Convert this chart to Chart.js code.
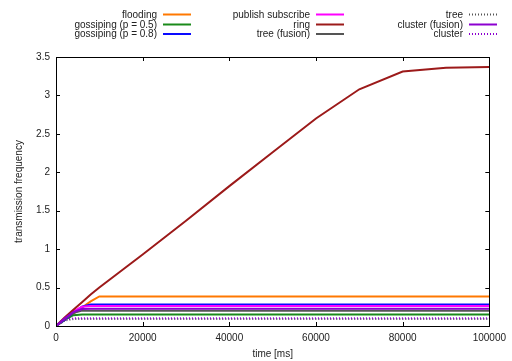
<!DOCTYPE html>
<html>
<head>
<meta charset="utf-8">
<script src="https://cdn.jsdelivr.net/npm/chart.js@4.4.1/dist/chart.umd.min.js"></script>
<style>
    html, body { margin: 0; padding: 0; background: #fff; }
    #wrap { width: 512px; height: 361px; }
</style>
</head>
<body>
<div id="wrap"><canvas id="freqChart" width="512" height="361"></canvas></div>
<script>
// time axis samples (ms)
const time = [0, 2000, 4000, 6000, 8000, 10000, 20000, 30000, 40000, 50000, 60000, 70000, 80000, 90000, 100000];

// series values
const flooding      = [0, 0.08, 0.16, 0.24, 0.32, 0.385, 0.385, 0.385, 0.385, 0.385, 0.385, 0.385, 0.385, 0.385, 0.385];
const gossip05      = [0, 0.08, 0.14, 0.15, 0.15, 0.15, 0.15, 0.15, 0.15, 0.15, 0.15, 0.15, 0.15, 0.15, 0.15];
const gossip08      = [0, 0.08, 0.17, 0.25, 0.28, 0.28, 0.28, 0.28, 0.28, 0.28, 0.28, 0.28, 0.28, 0.28, 0.28];
const pubsub        = [0, 0.1, 0.19, 0.25, 0.26, 0.26, 0.26, 0.26, 0.26, 0.26, 0.26, 0.26, 0.26, 0.26, 0.26];
const ring          = [0, 0.11, 0.21, 0.31, 0.41, 0.5, 0.93, 1.37, 1.82, 2.26, 2.7, 3.08, 3.31, 3.36, 3.37];
const treeFusion    = [0, 0.09, 0.17, 0.2, 0.2, 0.2, 0.2, 0.2, 0.2, 0.2, 0.2, 0.2, 0.2, 0.2, 0.2];
const tree          = [0, 0.07, 0.09, 0.09, 0.09, 0.09, 0.09, 0.09, 0.09, 0.09, 0.09, 0.09, 0.09, 0.09, 0.09];
const clusterFusion = [0, 0.1, 0.18, 0.22, 0.225, 0.225, 0.225, 0.225, 0.225, 0.225, 0.225, 0.225, 0.225, 0.225, 0.225];
const cluster       = [0, 0.08, 0.1, 0.1, 0.1, 0.1, 0.1, 0.1, 0.1, 0.1, 0.1, 0.1, 0.1, 0.1, 0.1];

const seriesNames = ['flooding', 'gossiping (p = 0.5)', 'gossiping (p = 0.8)', 'publish subscribe', 'ring',
                     'tree (fusion)', 'tree', 'cluster (fusion)', 'cluster'];
const seriesValues = [flooding, gossip05, gossip08, pubsub, ring, treeFusion, tree, clusterFusion, cluster];
const seriesColors = ['#ff7800', '#1a8a1a', '#0a0aff', '#ff00ff', '#9c1a1a', '#555555', '#555555', '#8c00d0', '#8c00d0'];
const seriesDashed = [false, false, false, false, false, false, true, false, true];

const xTicks = [0, 20000, 40000, 60000, 80000, 100000];
const yTicks = [0, 0.5, 1, 1.5, 2, 2.5, 3, 3.5];

const FONT = 'Liberation Sans, Arial, sans-serif';

// gnuplot style legend: 3 columns, text right aligned, sample line to the right
const legendPlugin = {
    id: 'gnuLegend',
    afterDraw(chart) {
        const ctx = chart.ctx;
        const colRight = [157, 310, 463];
        const rowY = [14.5, 24.5, 34];
        ctx.save();
        ctx.font = '10px ' + FONT;
        ctx.textAlign = 'right';
        ctx.textBaseline = 'middle';
        chart.data.datasets.forEach((ds, i) => {
            const col = Math.floor(i / 3);
            const row = i % 3;
            const x = colRight[col];
            const y = rowY[row];
            ctx.fillStyle = '#222';
            ctx.fillText(ds.label, x, y + 0.5);
            ctx.beginPath();
            ctx.strokeStyle = ds.borderColor;
            ctx.lineWidth = 2;
            ctx.setLineDash(ds.borderDash || []);
            ctx.moveTo(x + 6, y);
            ctx.lineTo(x + 34, y);
            ctx.stroke();
        });
        ctx.restore();
    }
};

// frame with inward, mirrored ticks
const framePlugin = {
    id: 'gnuFrame',
    afterDatasetsDraw(chart) {
        const ctx = chart.ctx;
        const a = chart.chartArea;
        const xs = chart.scales.x;
        const ys = chart.scales.y;
        const tl = 4;
        ctx.save();
        ctx.strokeStyle = '#000';
        ctx.lineWidth = 1;
        ctx.setLineDash([]);
        ctx.beginPath();
        xTicks.forEach(v => {
            const px = Math.round(xs.getPixelForValue(v)) + 0.5;
            ctx.moveTo(px, a.bottom); ctx.lineTo(px, a.bottom - tl);
            ctx.moveTo(px, a.top); ctx.lineTo(px, a.top + tl);
        });
        yTicks.forEach(v => {
            const py = Math.round(ys.getPixelForValue(v)) + 0.5;
            ctx.moveTo(a.left, py); ctx.lineTo(a.left + tl, py);
            ctx.moveTo(a.right, py); ctx.lineTo(a.right - tl, py);
        });
        ctx.stroke();
        ctx.strokeRect(Math.round(a.left) + 0.5, Math.round(a.top) + 0.5,
                       Math.round(a.right - a.left), Math.round(a.bottom - a.top));
        ctx.restore();
    }
};

const datasets = seriesNames.map((name, i) => ({
    label: name,
    data: time.map((t, k) => ({ x: t, y: seriesValues[i][k] })),
    borderColor: seriesColors[i],
    backgroundColor: seriesColors[i],
    borderWidth: 2,
    borderDash: seriesDashed[i] ? [1, 2] : undefined,
    pointRadius: 0,
    tension: 0,
    fill: false,
    order: seriesNames.length - i   // later series drawn on top, like gnuplot
}));

new Chart(document.getElementById('freqChart'), {
    type: 'line',
    data: { datasets: datasets },
    options: {
        responsive: false,
        animation: false,
        layout: { padding: { left: 0, right: 20, top: 57, bottom: 0 } },
        plugins: {
            legend: { display: false },
            tooltip: { enabled: false }
        },
        scales: {
            x: {
                type: 'linear',
                min: 0,
                max: 100000,
                afterFit(scale) { scale.height = 35; },
                afterBuildTicks(scale) { scale.ticks = xTicks.map(v => ({ value: v })); },
                grid: { display: false, drawTicks: false },
                border: { display: false },
                ticks: {
                    color: '#222',
                    font: { family: FONT, size: 10 },
                    padding: 6,
                    maxRotation: 0,
                    callback: v => String(v)
                },
                title: {
                    display: true,
                    text: 'time [ms]',
                    color: '#222',
                    font: { family: FONT, size: 10 },
                    padding: { top: 0, bottom: 1 }
                }
            },
            y: {
                min: 0,
                max: 3.5,
                afterFit(scale) { scale.width = 56; },
                afterBuildTicks(scale) { scale.ticks = yTicks.map(v => ({ value: v })); },
                grid: { display: false, drawTicks: false },
                border: { display: false },
                ticks: {
                    color: '#222',
                    font: { family: FONT, size: 10 },
                    padding: 6,
                    callback: v => String(v)
                },
                title: {
                    display: true,
                    text: 'transmission frequency',
                    color: '#222',
                    font: { family: FONT, size: 10 },
                    padding: { top: 13, bottom: 0 }
                }
            }
        }
    },
    plugins: [legendPlugin, framePlugin]
});
</script>
</body>
</html>
